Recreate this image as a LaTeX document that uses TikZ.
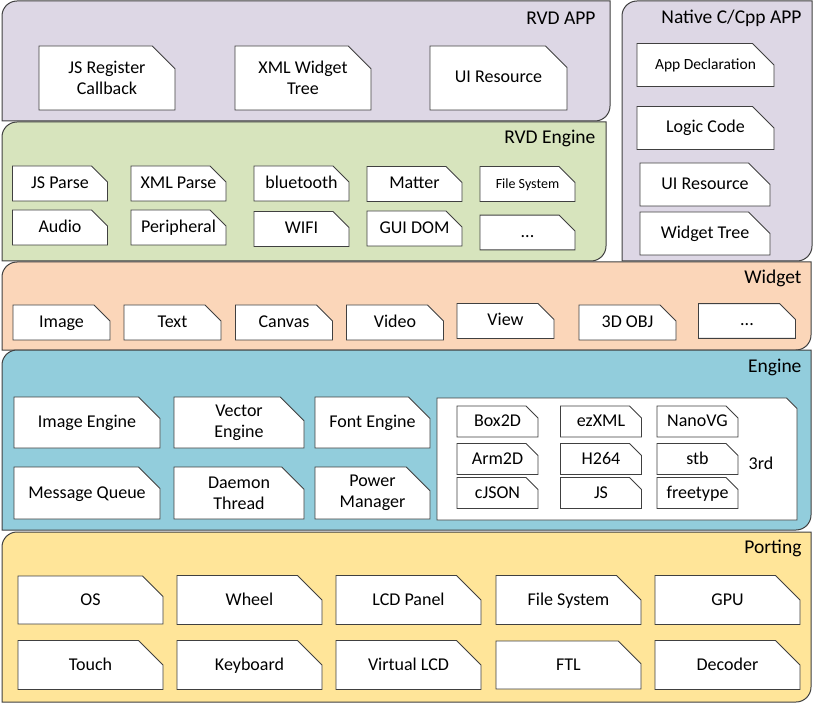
\documentclass[tikz,border=0pt]{standalone}
\usepackage{fontspec}
\setmainfont{Carlito}
\usetikzlibrary{shapes.misc}

\definecolor{appbg}{HTML}{DDD7E5}
\definecolor{rvdbg}{HTML}{D7E4BD}
\definecolor{widgetbg}{HTML}{FBD6B9}
\definecolor{enginebg}{HTML}{92CDDC}
\definecolor{portbg}{HTML}{FFE599}

\tikzset{
  layer/.style={draw=black!75, line width=1pt},
  title/.style={anchor=east, font=\fontsize{19.5}{22}\selectfont},
  blk/.style={chamfered rectangle, chamfered rectangle corners=north east,
    chamfered rectangle xsep=12pt, chamfered rectangle ysep=12pt,
    draw=black!75, fill=white, line width=0.9pt, inner sep=1pt, align=center,
    text height=13.5pt, text depth=3.5pt,
    font=\fontsize{18}{21}\selectfont},
  two/.style={text height={}, text depth={}, inner ysep=-6pt},
  small/.style={font=\fontsize{15.5}{18}\selectfont},
}

\begin{document}
\begin{tikzpicture}[x=1pt,y=-1pt]
  \useasboundingbox (0,0) rectangle (814,703);

  %% layers
  \draw[layer,fill=appbg] (2,121) -- (2,16) arc[start angle=180,end angle=270,radius=15]
    -- (610,1) -- (610,106) arc[start angle=0,end angle=90,radius=15] -- cycle;
  \draw[layer,fill=appbg] (622,261) -- (622,16) arc[start angle=180,end angle=270,radius=15]
    -- (812,1) -- (812,246) arc[start angle=0,end angle=90,radius=15] -- cycle;
  \draw[layer,fill=rvdbg] (2,261) -- (2,137) arc[start angle=180,end angle=270,radius=15]
    -- (606,122) -- (606,246) arc[start angle=0,end angle=90,radius=15] -- cycle;
  \draw[layer,fill=widgetbg] (2,350) -- (2,277) arc[start angle=180,end angle=270,radius=15]
    -- (811,262) -- (811,335) arc[start angle=0,end angle=90,radius=15] -- cycle;
  \draw[layer,fill=enginebg] (2,530) -- (2,365) arc[start angle=180,end angle=270,radius=15]
    -- (811,350) -- (811,515) arc[start angle=0,end angle=90,radius=15] -- cycle;
  \draw[layer,fill=portbg] (2,702) -- (2,547) arc[start angle=180,end angle=270,radius=15]
    -- (811,532) -- (811,687) arc[start angle=0,end angle=90,radius=15] -- cycle;

  \node[title] (tapp) at (599,18) {RVD APP};
  \node[title] (tnative) at (805,18) {Native C/Cpp APP};
  \node[title] (trvd) at (599,138) {RVD Engine};
  \node[title] (twidget) at (805,278) {Widget};
  \node[title] (tengine) at (805,367) {Engine};
  \node[title] (tport) at (805,548) {Porting};

  %% rvd app
  \node[blk, two, minimum width=136, minimum height=64] (jsreg) at (107,78) {JS Register\\Callback};
  \node[blk, two, minimum width=136, minimum height=64] (xmltree) at (303,78) {XML Widget\\Tree};
  \node[blk, minimum width=137, minimum height=64] (uires) at (498.5,78) {UI Resource};

  %% native app
  \node[blk, small, minimum width=137, minimum height=37] (appdecl) at (705.5,65) {App Declaration};
  \node[blk, minimum width=137, minimum height=32] (logic) at (705.5,128) {Logic Code};
  \node[blk, minimum width=130, minimum height=33] (nuires) at (705,184.5) {UI Resource};
  \node[blk, minimum width=130, minimum height=35] (ntree) at (705,233.5) {Widget Tree};

  %% rvd engine
  \tikzset{rvd/.style={blk, chamfered rectangle xsep=8pt, chamfered rectangle ysep=8pt,
    minimum width=95, minimum height=33}}
  \node[rvd] (jsparse) at (60,183.5) {JS Parse};
  \node[rvd] (xmlparse) at (178.5,183.5) {XML Parse};
  \node[rvd] (bt) at (301.5,183.5) {bluetooth};
  \node[rvd] (matter) at (414.5,184) {Matter};
  \node[rvd, font=\fontsize{14}{16}\selectfont] (rfs) at (527.5,184) {File System};
  \node[rvd] (audio) at (60,227.5) {Audio};
  \node[rvd] (periph) at (178.5,227.5) {Peripheral};
  \node[rvd] (wifi) at (301.5,229) {WIFI};
  \node[rvd] (guidom) at (414.5,228.5) {GUI DOM};
  \node[rvd] (rmore) at (527.5,232.5) {...};

  %% widget
  \tikzset{wdg/.style={blk, chamfered rectangle xsep=8pt, chamfered rectangle ysep=8pt,
    minimum width=97, minimum height=29}}
  \node[wdg] (image) at (61.5,322.5) {Image};
  \node[wdg] (text) at (172.5,322.5) {Text};
  \node[wdg] (canvas) at (284,322.5) {Canvas};
  \node[wdg] (video) at (395,322.5) {Video};
  \node[wdg] (view) at (505.5,321) {View};
  \node[wdg] (obj) at (627.5,322.5) {3D OBJ};
  \node[wdg] (wmore) at (747,321) {...};

  %% engine
  \node[blk, minimum width=146, minimum height=51] (imgeng) at (87,422.5) {Image Engine};
  \node[blk, two, minimum width=130, minimum height=51] (veceng) at (239,422.5) {Vector\\Engine};
  \node[blk, minimum width=115, minimum height=51] (fonteng) at (372.5,422.5) {Font Engine};
  \node[blk, minimum width=146, minimum height=52] (msgq) at (87,493) {Message Queue};
  \node[blk, two, minimum width=130, minimum height=52] (daemon) at (239,493) {Daemon\\Thread};
  \node[blk, two, minimum width=115, minimum height=52] (power) at (372.5,493) {Power\\Manager};

  \node[blk, chamfered rectangle xsep=36pt, chamfered rectangle ysep=36pt,
    minimum width=360, minimum height=122] (third) at (617,459) {};
  \node[font=\fontsize{18}{21}\selectfont] (thirdlbl) at (761,463) {3rd};

  \tikzset{lib/.style={blk, chamfered rectangle xsep=6pt, chamfered rectangle ysep=6pt,
    minimum width=81, minimum height=29}}
  \node[lib] (box2d) at (497.5,421.5) {Box2D};
  \node[lib] (ezxml) at (601,421.5) {ezXML};
  \node[lib] (nanovg) at (697.5,421.5) {NanoVG};
  \node[lib] (arm2d) at (497.5,459) {Arm2D};
  \node[lib] (h264) at (601,459) {H264};
  \node[lib] (stb) at (697.5,459) {stb};
  \node[lib] (cjson) at (497.5,493) {cJSON};
  \node[lib] (js) at (601,493) {JS};
  \node[lib] (freetype) at (697.5,493) {freetype};

  %% porting
  \tikzset{port/.style={blk, chamfered rectangle xsep=15pt, chamfered rectangle ysep=15pt,
    minimum width=145, minimum height=48}}
  \node[port] (os) at (90.5,600) {OS};
  \node[port] (wheel) at (249.5,600) {Wheel};
  \node[port] (lcd) at (408.5,600) {LCD Panel};
  \node[port] (pfs) at (568.5,600) {File System};
  \node[port] (gpu) at (727.5,600) {GPU};
  \node[port] (touch) at (90.5,665) {Touch};
  \node[port] (kbd) at (249.5,665) {Keyboard};
  \node[port] (vlcd) at (408.5,665) {Virtual LCD};
  \node[port] (ftl) at (568.5,665) {FTL};
  \node[port] (decoder) at (727.5,665) {Decoder};

\end{tikzpicture}
\end{document}
